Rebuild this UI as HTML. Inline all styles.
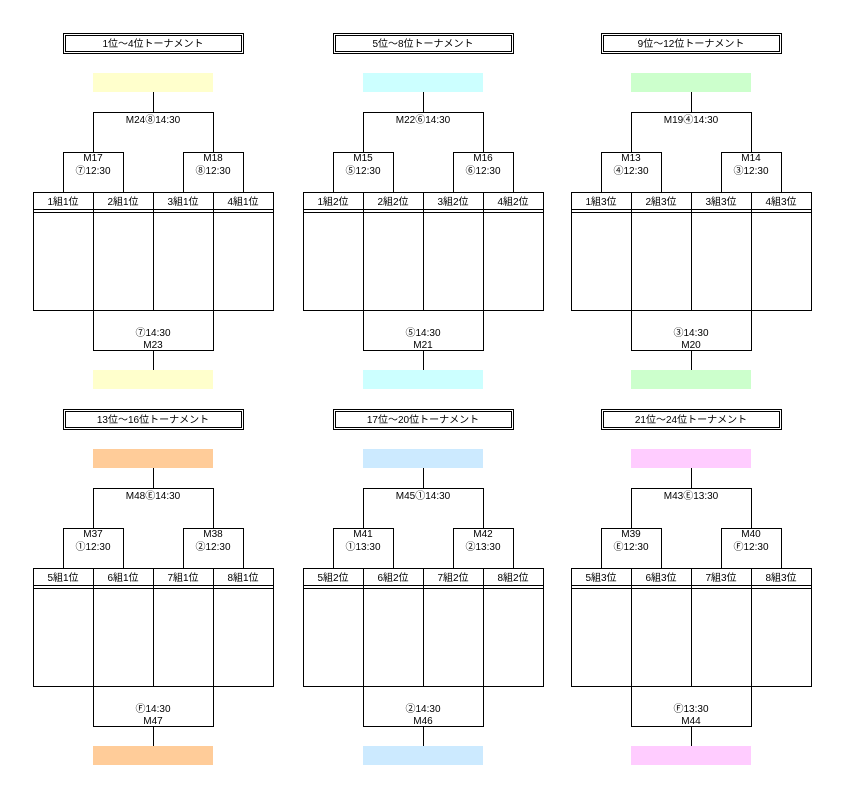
<!DOCTYPE html>
<html><head><meta charset="utf-8">
<style>
html,body{margin:0;padding:0;background:#fff;}
svg{display:block;}
text{font-family:"Liberation Sans","Noto Sans CJK JP",sans-serif;font-size:10px;fill:#000;text-anchor:middle;}
line,rect.b{stroke:#000;stroke-width:1;fill:none;}
</style></head>
<body>
<svg width="847" height="793" viewBox="0 0 847 793" shape-rendering="crispEdges">
<defs>
<g id="frame">
  <rect class="b" x="63.5" y="33.5" width="180" height="20"/>
  <rect class="b" x="65.5" y="35.5" width="176" height="16"/>
  <line x1="153.5" y1="92" x2="153.5" y2="113"/>
  <line x1="93" y1="112.5" x2="214" y2="112.5"/>
  <line x1="93.5" y1="112" x2="93.5" y2="152"/>
  <line x1="213.5" y1="112" x2="213.5" y2="152"/>
  <line x1="63" y1="152.5" x2="124" y2="152.5"/>
  <line x1="63.5" y1="152" x2="63.5" y2="192"/>
  <line x1="123.5" y1="152" x2="123.5" y2="192"/>
  <line x1="183" y1="152.5" x2="244" y2="152.5"/>
  <line x1="183.5" y1="152" x2="183.5" y2="192"/>
  <line x1="243.5" y1="152" x2="243.5" y2="192"/>
  <rect class="b" x="33.5" y="192.5" width="240" height="118"/>
  <line x1="33" y1="209.5" x2="274" y2="209.5"/>
  <line x1="33" y1="212.5" x2="274" y2="212.5"/>
  <line x1="93.5" y1="192" x2="93.5" y2="311"/>
  <line x1="153.5" y1="192" x2="153.5" y2="311"/>
  <line x1="213.5" y1="192" x2="213.5" y2="311"/>
  <line x1="93.5" y1="311" x2="93.5" y2="350"/>
  <line x1="213.5" y1="311" x2="213.5" y2="350"/>
  <line x1="93" y1="350.5" x2="214" y2="350.5"/>
  <line x1="153.5" y1="350" x2="153.5" y2="370"/>
</g>
</defs>

<!-- Block 1 -->
<g>
<rect x="93" y="73" width="120" height="19" fill="#ffffcc"/>
<rect x="93" y="370" width="120" height="19" fill="#ffffcc"/>
<use href="#frame"/>
<text x="153" y="47">1位～4位トーナメント</text>
<text x="153" y="123">M24⑧14:30</text>
<text x="93" y="161">M17</text><text x="93" y="174">⑦12:30</text>
<text x="213" y="161">M18</text><text x="213" y="174">⑧12:30</text>
<text x="63" y="205">1組1位</text><text x="123" y="205">2組1位</text><text x="183" y="205">3組1位</text><text x="243" y="205">4組1位</text>
<text x="153" y="336">⑦14:30</text><text x="153" y="348">M23</text>
</g>

<!-- Block 2 -->
<g transform="translate(270,0)">
<rect x="93" y="73" width="120" height="19" fill="#ccffff"/>
<rect x="93" y="370" width="120" height="19" fill="#ccffff"/>
<use href="#frame"/>
<text x="153" y="47">5位～8位トーナメント</text>
<text x="153" y="123">M22⑥14:30</text>
<text x="93" y="161">M15</text><text x="93" y="174">⑤12:30</text>
<text x="213" y="161">M16</text><text x="213" y="174">⑥12:30</text>
<text x="63" y="205">1組2位</text><text x="123" y="205">2組2位</text><text x="183" y="205">3組2位</text><text x="243" y="205">4組2位</text>
<text x="153" y="336">⑤14:30</text><text x="153" y="348">M21</text>
</g>

<!-- Block 3 -->
<g transform="translate(538,0)">
<rect x="93" y="73" width="120" height="19" fill="#ccffcc"/>
<rect x="93" y="370" width="120" height="19" fill="#ccffcc"/>
<use href="#frame"/>
<text x="153" y="47">9位～12位トーナメント</text>
<text x="153" y="123">M19④14:30</text>
<text x="93" y="161">M13</text><text x="93" y="174">④12:30</text>
<text x="213" y="161">M14</text><text x="213" y="174">③12:30</text>
<text x="63" y="205">1組3位</text><text x="123" y="205">2組3位</text><text x="183" y="205">3組3位</text><text x="243" y="205">4組3位</text>
<text x="153" y="336">③14:30</text><text x="153" y="348">M20</text>
</g>

<!-- Block 4 -->
<g transform="translate(0,376)">
<rect x="93" y="73" width="120" height="19" fill="#ffcc99"/>
<rect x="93" y="370" width="120" height="19" fill="#ffcc99"/>
<use href="#frame"/>
<text x="153" y="47">13位～16位トーナメント</text>
<text x="153" y="123">M48Ⓔ14:30</text>
<text x="93" y="161">M37</text><text x="93" y="174">①12:30</text>
<text x="213" y="161">M38</text><text x="213" y="174">②12:30</text>
<text x="63" y="205">5組1位</text><text x="123" y="205">6組1位</text><text x="183" y="205">7組1位</text><text x="243" y="205">8組1位</text>
<text x="153" y="336">Ⓕ14:30</text><text x="153" y="348">M47</text>
</g>

<!-- Block 5 -->
<g transform="translate(270,376)">
<rect x="93" y="73" width="120" height="19" fill="#cceaff"/>
<rect x="93" y="370" width="120" height="19" fill="#cceaff"/>
<use href="#frame"/>
<text x="153" y="47">17位～20位トーナメント</text>
<text x="153" y="123">M45①14:30</text>
<text x="93" y="161">M41</text><text x="93" y="174">①13:30</text>
<text x="213" y="161">M42</text><text x="213" y="174">②13:30</text>
<text x="63" y="205">5組2位</text><text x="123" y="205">6組2位</text><text x="183" y="205">7組2位</text><text x="243" y="205">8組2位</text>
<text x="153" y="336">②14:30</text><text x="153" y="348">M46</text>
</g>

<!-- Block 6 -->
<g transform="translate(538,376)">
<rect x="93" y="73" width="120" height="19" fill="#ffccff"/>
<rect x="93" y="370" width="120" height="19" fill="#ffccff"/>
<use href="#frame"/>
<text x="153" y="47">21位～24位トーナメント</text>
<text x="153" y="123">M43Ⓔ13:30</text>
<text x="93" y="161">M39</text><text x="93" y="174">Ⓔ12:30</text>
<text x="213" y="161">M40</text><text x="213" y="174">Ⓕ12:30</text>
<text x="63" y="205">5組3位</text><text x="123" y="205">6組3位</text><text x="183" y="205">7組3位</text><text x="243" y="205">8組3位</text>
<text x="153" y="336">Ⓕ13:30</text><text x="153" y="348">M44</text>
</g>
</svg>
</body></html>
